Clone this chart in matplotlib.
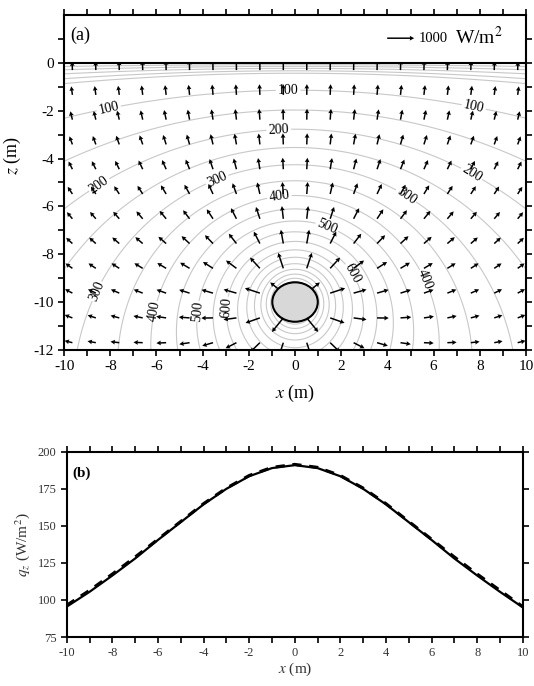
import numpy as np
import matplotlib
matplotlib.use('Agg')
import matplotlib.pyplot as plt
from matplotlib.patches import Ellipse, Rectangle
from matplotlib.ticker import MultipleLocator

plt.rcParams['font.family'] = ['Liberation Serif', 'DejaVu Serif']
plt.rcParams['mathtext.fontset'] = 'stix'
plt.rcParams['axes.unicode_minus'] = False

# ---------------- panel (a): buried heat source ----------------
source_x, source_z = 0.0, -10.0      # pipe centre (m)
pipe_w, pipe_h = 1.97, 1.65          # drawn pipe size (m)
pipe_r = 0.9                         # pipe radius used for the field (m)
heat_q = 950.0                       # flux strength (W/m)
temp_a = 294.0                       # contour field scale
temp_b = 32.6                        # contour field offset
label_levels = [100, 200, 300, 400, 500, 600]
plain_levels = [37, 41, 46, 52, 58, 150, 250, 350, 450, 550, 650, 700, 750, 800,
                850, 900, 950]
label_pos = [(-8.05, -1.97), (-0.3, -1.12), (7.8, -1.61), (-8.35, -5.25),
             (-0.7, -2.83), (7.9, -4.3), (-3.48, -4.68), (4.84, -5.53),
             (-8.5, -9.58), (-0.68, -5.58), (5.8, -9.0), (-6.28, -10.36),
             (1.45, -6.73), (-4.59, -10.36), (-3.26, -10.2), (2.63, -8.72)]
arrow_x = np.linspace(-9.64, 9.64, 20)
arrow_z = np.linspace(-0.3, -11.7, 12)
key_label = '1000'
arrow_power = 0.33                   # display compression of arrow lengths

# ---------------- panel (b): surface flux ----------------
qz_x = [-10, -9, -8, -7, -6, -5, -4, -3, -2, -1, 0, 1, 2, 3, 4, 5, 6, 7, 8, 9, 10]
qz_solid = [95.5, 105.5, 116.5, 128.0, 140.5, 152.5, 164.5, 175.0, 183.5, 189.0, 191.0,
            189.0, 183.5, 175.0, 164.5, 152.5, 140.5, 128.0, 116.5, 105.5, 95.0]
qz_dashed = [96.5, 106.5, 117.5, 129.0, 141.0, 153.0, 165.0, 175.5, 184.0, 189.5, 191.5,
             189.5, 184.0, 175.5, 165.0, 153.0, 141.0, 129.0, 117.5, 106.5, 95.5]


def field_T(x, z):
    rs = np.hypot(x - source_x, z - source_z)
    ri = np.hypot(x - source_x, z + source_z)
    rs = np.maximum(rs, 1e-6)
    return temp_a * np.log(ri / rs) + temp_b


def field_q(x, z):
    dxs, dzs = x - source_x, z - source_z
    dxi, dzi = x - source_x, z + source_z
    r2s = np.maximum(dxs**2 + dzs**2, pipe_r**2)
    r2i = dxi**2 + dzi**2
    qx = heat_q * (dxs / r2s - dxi / r2i)
    qz = heat_q * (dzs / r2s - dzi / r2i)
    return qx, qz


fig = plt.figure(figsize=(5.34, 6.86), dpi=100)
ax = fig.add_axes([0.120, 0.490, 0.865, 0.488])
bx = fig.add_axes([0.125, 0.0714, 0.854, 0.270])

gx = np.linspace(-10, 10, 401)
gz = np.linspace(-12, 0, 301)
GX, GZ = np.meshgrid(gx, gz)
T = field_T(GX, GZ)
ax.contour(GX, GZ, T, levels=plain_levels, colors='#c8c8c8', linewidths=0.8, zorder=1)
cs = ax.contour(GX, GZ, T, levels=label_levels, colors='#c8c8c8', linewidths=0.8, zorder=1)
ax.clabel(cs, manual=label_pos, inline=True, inline_spacing=2,
          fontsize=10, fmt='%d', colors='k')

AX, AZ = np.meshgrid(arrow_x, arrow_z)
QX, QZ = field_q(AX, AZ)
mag = np.hypot(QX, QZ)
fac = mag ** (arrow_power - 1.0)
Q = ax.quiver(AX, AZ, QX * fac, QZ * fac, angles='uv', scale_units='inches', scale=52.9,
              units='dots', width=1.5, headwidth=3.2, headlength=3.0,
              headaxislength=2.7, color='k', pivot='tail', zorder=3)
Q.set_clip_path(Rectangle((-10, -12), 20, 12, transform=ax.transData))

ax.add_patch(Ellipse((source_x, source_z), pipe_w, pipe_h, facecolor='#d8d8d8',
                     edgecolor='k', lw=1.5, zorder=4))
ax.axhline(0, color='k', lw=1.5, zorder=5)

ax.quiverkey(Q, 0.758, 0.931, 14.3, '', labelpos='E', coordinates='axes')
ax.text(0.768, 0.931, key_label, transform=ax.transAxes, fontsize=10.5, va='center', ha='left')
ax.text(0.846, 0.933, 'W/m$^2$', transform=ax.transAxes, fontsize=14, va='center', ha='left')
ax.text(0.013, 0.939, '(a)', transform=ax.transAxes, fontsize=13, va='center', ha='left')

ax.set_xlim(-10, 10)
ax.set_ylim(-12, 2)
ax.set_xticks(np.arange(-10, 11, 2))
ax.xaxis.set_minor_locator(MultipleLocator(1))
ax.set_yticks(np.arange(-12, 1, 2))
ax.set_yticks(np.arange(-11, 2, 2), minor=True)
ax.tick_params(which='both', direction='out', length=4, width=1.2, top=True, right=True,
               labelsize=11)
for s in ax.spines.values():
    s.set_linewidth(1.5)
ax.set_xlabel('$x$ (m)', fontsize=13, labelpad=7)
ax.set_ylabel('$z$ (m)', fontsize=13)
ax.yaxis.set_label_coords(-0.088, 0.58)

# panel b
tc = '#333333'
bx.plot(qz_x, qz_solid, color='k', lw=1.6, zorder=3)
bx.plot(qz_x, qz_dashed, color='k', lw=2.2, dashes=(3, 2.5), zorder=2)
bx.set_xlim(-10, 10)
bx.set_ylim(75, 200)
bx.set_xticks(np.arange(-10, 11, 2))
bx.xaxis.set_minor_locator(MultipleLocator(1))
bx.set_yticks(np.arange(75, 201, 25))
bx.tick_params(which='both', direction='out', length=4, width=1.2, top=True, right=True,
               labelsize=9, labelcolor=tc)
for s in bx.spines.values():
    s.set_linewidth(1.5)
bx.set_xlabel('$x$ (m)', fontsize=11, color=tc, labelpad=1)
bx.set_ylabel('$q_z$ (W/m$^2$)', fontsize=11, color=tc)
bx.text(0.013, 0.886, '(b)', transform=bx.transAxes, fontsize=11, fontweight='bold',
        va='center', ha='left')

fig.savefig('out.png', dpi=100)
